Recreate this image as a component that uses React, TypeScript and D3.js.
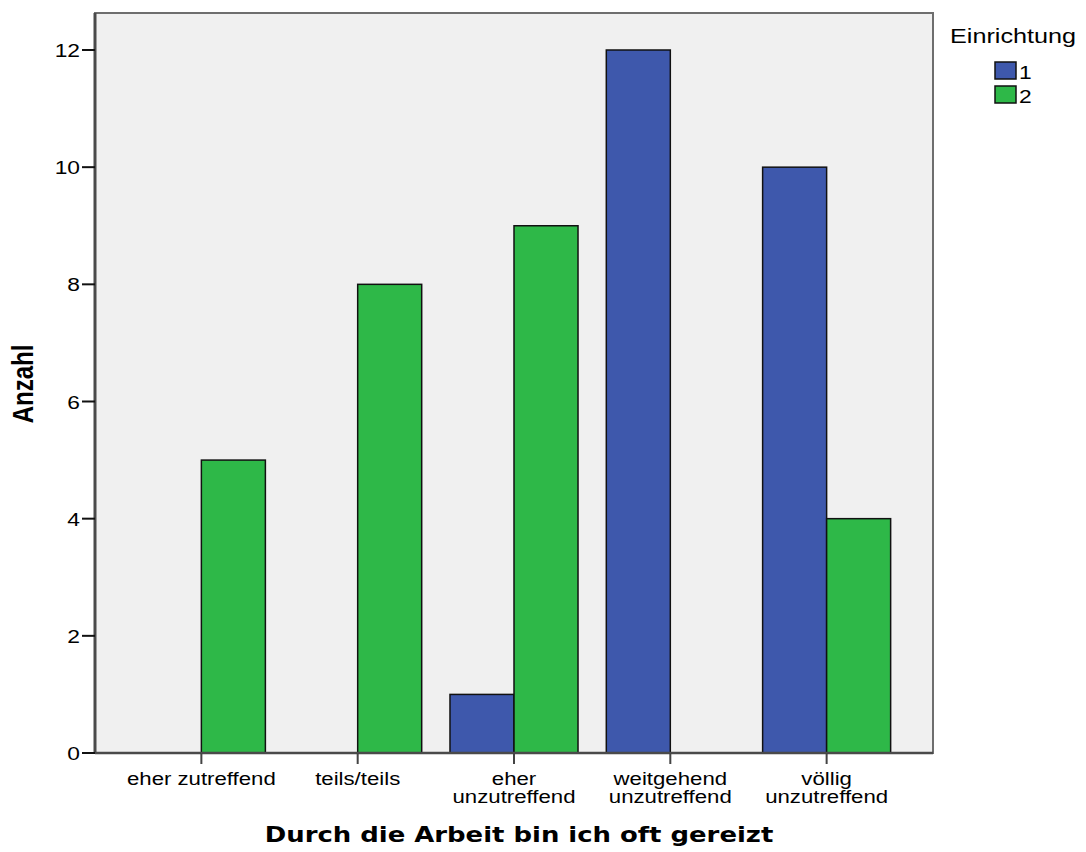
import React from "react";
import * as d3 from "d3";

const categories = ["eher zutreffend", "teils/teils", "eher unzutreffend", "weitgehend unzutreffend", "völlig unzutreffend"];
const categoryLines = [["eher zutreffend"], ["teils/teils"], ["eher", "unzutreffend"], ["weitgehend", "unzutreffend"], ["völlig", "unzutreffend"]];
const seriesNames = ["1", "2"];
const series1 = [0, 0, 1, 12, 10];
const series2 = [5, 8, 9, 0, 4];
const yTicks = [0, 2, 4, 6, 8, 10, 12];
const colors = ["#3e58ac", "#2eb848"];

const W = 1086, H = 852;
const left = 95, right = 933, top = 13, bottom = 753;
const SX = 1.2;
const sans = "'Liberation Sans', Arial, sans-serif";

function T({ x, y, children, size = 19, anchor = "start", weight = "normal", family = sans, rotate = 0 }: any) {
  return (
    <text
      transform={`translate(${x},${y}) scale(${SX},1)${rotate ? ` rotate(${rotate})` : ""}`}
      fontSize={size}
      fontFamily={family}
      fontWeight={weight}
      textAnchor={anchor}
      fill="#000"
    >
      {children}
    </text>
  );
}

export default function App() {
  const x = d3.scaleBand<string>().domain(categories).range([left, right]).paddingInner(0.181).paddingOuter(0.271);
  const xs = d3.scaleBand<string>().domain(seriesNames).range([0, x.bandwidth()]).padding(0);
  const y = d3.scaleLinear().domain([0, 12]).range([bottom, 50]);
  const data = [series1, series2];

  return (
    <svg width={W} height={H} style={{ position: "absolute", left: 0, top: 0, background: "#fff" }}>
      <rect x={left} y={top} width={right - left} height={bottom - top} fill="#f0f0f0" stroke="#6e6e6e" strokeWidth={2} />
      {categories.map((c, i) =>
        data.map((s, j) => {
          const v = s[i];
          const bx = (x(c) as number) + (xs(seriesNames[j]) as number);
          return (
            <rect
              key={c + j}
              x={bx}
              y={y(v)}
              width={xs.bandwidth()}
              height={y(0) - y(v)}
              fill={colors[j]}
              stroke="#111"
              strokeWidth={1.5}
            />
          );
        })
      )}
      {/* axes */}
      <line x1={left} x2={left} y1={top} y2={bottom + 1} stroke="#4a4a4a" strokeWidth={3} />
      <line x1={left} x2={right} y1={bottom} y2={bottom} stroke="#4a4a4a" strokeWidth={2.5} />
      {yTicks.map((t) => (
        <g key={t}>
          <line x1={left - 13} x2={left} y1={y(t)} y2={y(t)} stroke="#111" strokeWidth={2} />
          <T x={80} y={y(t) + 7} anchor="end">{String(t)}</T>
        </g>
      ))}
      {categories.map((c, i) => {
        const cx = (x(c) as number) + x.bandwidth() / 2;
        return (
          <g key={c}>
            <line x1={cx} x2={cx} y1={bottom} y2={bottom + 11} stroke="#444" strokeWidth={2} />
            {categoryLines[i].map((ln, k) => (
              <T key={k} x={cx} y={785 + k * 18} anchor="middle" size={18.5}>{ln}</T>
            ))}
          </g>
        );
      })}
      <T x={519} y={842} anchor="middle" size={21.6} weight="bold" family="'DejaVu Sans', Verdana, sans-serif">
        Durch die Arbeit bin ich oft gereizt
      </T>
      <T x={33} y={384} anchor="middle" size={24} weight="bold" rotate={-90}>Anzahl</T>
      {/* legend */}
      <T x={950} y={43} size={21}>Einrichtung</T>
      {seriesNames.map((n, j) => (
        <g key={n}>
          <rect x={995} y={62 + j * 24} width={21} height={17} fill={colors[j]} stroke="#111" strokeWidth={1.5} />
          <T x={1019} y={79 + j * 24} size={19}>{n}</T>
        </g>
      ))}
    </svg>
  );
}
